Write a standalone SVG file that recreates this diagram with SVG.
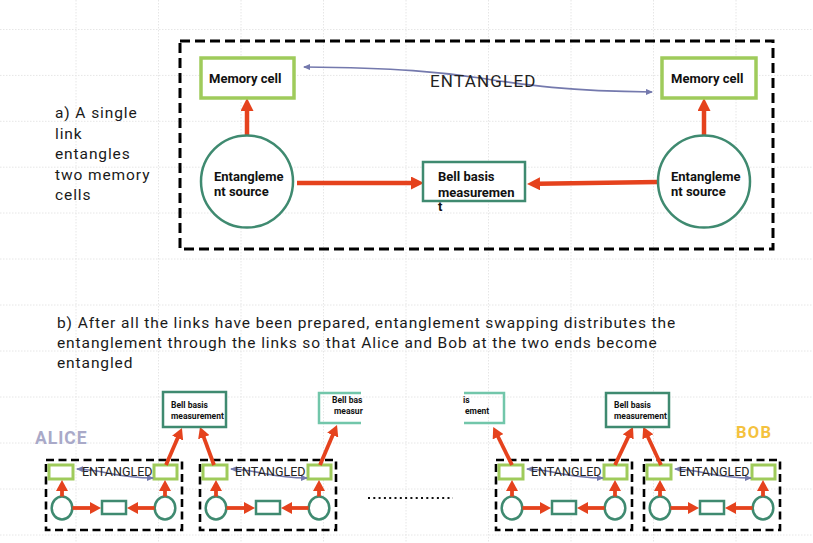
<svg xmlns="http://www.w3.org/2000/svg" width="813" height="543" viewBox="0 0 813 543">
<style>
.grid{stroke:#e6e6e6;stroke-width:1;stroke-dasharray:1.5 1.5;fill:none}
.body{font-family:Roboto,"Liberation Sans",sans-serif;font-size:15.5px;fill:#1a1a1a;letter-spacing:0.9px}
.lbl{font-family:Roboto,"Liberation Sans",sans-serif;font-weight:bold;font-size:13px;fill:#111}
.blbl{font-family:Roboto,"Liberation Sans",sans-serif;font-weight:bold;font-size:8.5px;fill:#111}
.ent{font-family:Roboto,"Liberation Sans",sans-serif;font-size:17px;fill:#222;letter-spacing:1.2px}
.ents{font-family:Roboto,"Liberation Sans",sans-serif;font-size:12.5px;fill:#222}
.mem{fill:#fff;stroke:#9fcb5b;stroke-width:3.5}
.mems{fill:#fff;stroke:#9fcb5b;stroke-width:3}
.src{fill:#fff;stroke:#3f8a70;stroke-width:2.5}
.bell{fill:#fff;stroke:#3f8a70;stroke-width:2.5}
.bellL{fill:none;stroke:#72c6aa;stroke-width:2.5}
.link{fill:none;stroke:#000;stroke-width:3;stroke-dasharray:10 5}
.links{fill:none;stroke:#000;stroke-width:2.6;stroke-dasharray:8 4.5}
.red{stroke:#e5421d;stroke-width:4.5;fill:none;marker-end:url(#rh)}
.reds{stroke:#e5421d;stroke-width:3.8;fill:none;marker-end:url(#rhs)}
.lav{stroke:#7479ad;stroke-width:1.6;fill:none;marker-start:url(#lh);marker-end:url(#lh)}
</style>
<defs>
<marker id="rh" markerUnits="userSpaceOnUse" markerWidth="13" markerHeight="13" viewBox="0 0 13 13" refX="2" refY="6.5" orient="auto"><path d="M0,0 L13,6.5 L0,13 Z" fill="#e5421d"/></marker>
<marker id="rhs" markerUnits="userSpaceOnUse" markerWidth="11" markerHeight="12" viewBox="0 0 11 12" refX="2" refY="6" orient="auto"><path d="M0,0 L11,6 L0,12 Z" fill="#e5421d"/></marker>
<marker id="lh" markerUnits="userSpaceOnUse" markerWidth="7" markerHeight="6" viewBox="0 0 7 6" refX="6" refY="3" orient="auto-start-reverse"><path d="M0,0 L7,3 L0,6 Z" fill="#7479ad"/></marker>
</defs>
<rect width="813" height="543" fill="#fff"/>
<g id="grid" class="grid">
<path d="M76,0V543M158.5,0V543M241,0V543M323.5,0V543M406,0V543M488.5,0V543M571,0V543M653.5,0V543M736,0V543"/>
<path d="M0,29.5H813M0,75.4H813M0,121.3H813M0,167.2H813M0,213H813M0,259H813M0,305H813M0,351H813M0,397H813M0,443H813M0,489H813M0,535H813"/>
</g>

<g id="caption-a">
<text class="body" x="55" y="118">a) A single</text>
<text class="body" x="55" y="138.5">link</text>
<text class="body" x="55" y="159">entangles</text>
<text class="body" x="55" y="179.5">two memory</text>
<text class="body" x="55" y="200">cells</text>
</g>

<g id="link-a">
<rect class="link" x="180" y="41" width="593" height="208"/>
</g>

<g id="connectors-a">
<path class="red" d="M247,136 V109"/>
<path class="red" d="M704,136 V109"/>
<path class="red" d="M297,183 H413"/>
<path class="red" d="M658,182 L538,183.8"/>
<path class="lav" d="M304,67 C400,68 440,72 480,78 S560,91 652,92"/>
</g>

<g id="memory-left">
<rect class="mem" x="201" y="58" width="93" height="40"/>
<text class="lbl" x="209" y="83">Memory cell</text>
</g>
<g id="memory-right">
<rect class="mem" x="662" y="58" width="94" height="40"/>
<text class="lbl" x="671" y="83">Memory cell</text>
</g>
<g id="source-left">
<circle class="src" cx="247" cy="181.5" r="46"/>
<text class="lbl" x="214" y="181">Entangleme</text>
<text class="lbl" x="214" y="196">nt source</text>
</g>
<g id="source-right">
<circle class="src" cx="704" cy="181.5" r="46"/>
<text class="lbl" x="671" y="181">Entangleme</text>
<text class="lbl" x="671" y="196">nt source</text>
</g>
<g id="bell-a">
<rect class="bell" x="423" y="162" width="102" height="39"/>
<text class="lbl" x="438" y="180.5">Bell basis</text>
<text class="lbl" x="438" y="197">measuremen</text>
<text class="lbl" x="438" y="211">t</text>
</g>
<g id="entangled-label-a">
<text class="ent" x="430" y="87">ENTANGLED</text>
</g>

<g id="caption-b">
<text class="body" x="57" y="328">b) After all the links have been prepared, entanglement swapping distributes the</text>
<text class="body" x="57" y="348.3">entanglement through the links so that Alice and Bob at the two ends become</text>
<text class="body" x="57" y="368.3">entangled</text>
</g>

<g id="alice"><text x="35" y="444" font-family="Roboto,'Liberation Sans',sans-serif" font-weight="bold" font-size="17.5" letter-spacing="1" fill="#a9a9c8">ALICE</text></g>
<g id="bob"><text x="736" y="438" font-family="Roboto,'Liberation Sans',sans-serif" font-weight="bold" font-size="16.5" letter-spacing="1.3" fill="#f4c23e">BOB</text></g>

<g id="link-1" transform="translate(46,0)">
<rect class="links" x="0" y="460" width="136" height="70"/>
<rect class="mems" x="3" y="465" width="24" height="14"/>
<rect class="mems" x="108" y="465" width="23" height="14"/>
<ellipse class="src" cx="16" cy="508" rx="10.3" ry="11.5"/>
<ellipse class="src" cx="119" cy="508" rx="10.3" ry="11.5"/>
<rect class="src" x="56" y="501" width="24" height="13"/>
<path class="reds" d="M26.5,508 H46"/>
<path class="reds" d="M108.5,508 H90"/>
<path class="reds" d="M16,496.5 V489"/>
<path class="reds" d="M119,496.5 V489"/>
<path class="lav" d="M31,469 C60,470 70,478 107,478"/>
<text class="ents" x="36" y="476">ENTANGLED</text>
</g>
<g id="link-2" transform="translate(200,0)">
<rect class="links" x="0" y="460" width="136" height="70"/>
<rect class="mems" x="3" y="465" width="24" height="14"/>
<rect class="mems" x="108" y="465" width="23" height="14"/>
<ellipse class="src" cx="16" cy="508" rx="10.3" ry="11.5"/>
<ellipse class="src" cx="119" cy="508" rx="10.3" ry="11.5"/>
<rect class="src" x="56" y="501" width="24" height="13"/>
<path class="reds" d="M26.5,508 H46"/>
<path class="reds" d="M108.5,508 H90"/>
<path class="reds" d="M16,496.5 V489"/>
<path class="reds" d="M119,496.5 V489"/>
<path class="lav" d="M31,469 C60,470 70,478 107,478"/>
<text class="ents" x="35" y="476">ENTANGLED</text>
</g>
<g id="link-3" transform="translate(496,0)">
<rect class="links" x="0" y="460" width="136" height="70"/>
<rect class="mems" x="3" y="465" width="24" height="14"/>
<rect class="mems" x="108" y="465" width="23" height="14"/>
<ellipse class="src" cx="16" cy="508" rx="10.3" ry="11.5"/>
<ellipse class="src" cx="119" cy="508" rx="10.3" ry="11.5"/>
<rect class="src" x="56" y="501" width="24" height="13"/>
<path class="reds" d="M26.5,508 H46"/>
<path class="reds" d="M108.5,508 H90"/>
<path class="reds" d="M16,496.5 V489"/>
<path class="reds" d="M119,496.5 V489"/>
<path class="lav" d="M31,469 C60,470 70,478 107,478"/>
<text class="ents" x="35" y="476">ENTANGLED</text>
</g>
<g id="link-4" transform="translate(644,0)">
<rect class="links" x="0" y="460" width="136" height="70"/>
<rect class="mems" x="3" y="465" width="24" height="14"/>
<rect class="mems" x="108" y="465" width="23" height="14"/>
<ellipse class="src" cx="16" cy="508" rx="10.3" ry="11.5"/>
<ellipse class="src" cx="119" cy="508" rx="10.3" ry="11.5"/>
<rect class="src" x="56" y="501" width="24" height="13"/>
<path class="reds" d="M26.5,508 H46"/>
<path class="reds" d="M108.5,508 H90"/>
<path class="reds" d="M16,496.5 V489"/>
<path class="reds" d="M119,496.5 V489"/>
<path class="lav" d="M31,469 C60,470 70,478 107,478"/>
<text class="ents" x="35" y="476">ENTANGLED</text>
</g>

<g id="connectors-b">
<path class="reds" d="M166,465 L178.4,436.3"/>
<path class="reds" d="M214,465 L203.1,435.4"/>
<path class="reds" d="M320,465 L333.5,433.3"/>
<path class="reds" d="M512,465 L497.2,435"/>
<path class="reds" d="M615,465 L629.1,435.1"/>
<path class="reds" d="M661,465 L647,435"/>
<path d="M368,498 H453" stroke="#111" stroke-width="2" stroke-dasharray="2 3.3" fill="none"/>
</g>

<g id="bell-1">
<rect class="bell" x="163" y="392" width="63" height="35"/>
<text class="blbl" x="171" y="408">Bell basis</text>
<text class="blbl" x="171" y="418.5">measurement</text>
</g>
<g id="bell-2">
<path class="bellL" d="M361,393 H319 V423 H361"/>
<text class="blbl" x="332" y="403">Bell bas</text>
<text class="blbl" x="334" y="414">measur</text>
</g>
<g id="bell-3">
<path class="bellL" d="M464,393 H504 V423 H464"/>
<text class="blbl" x="463" y="403">is</text>
<text class="blbl" x="465" y="414">ement</text>
</g>
<g id="bell-4">
<rect class="bell" x="606" y="393" width="63" height="34"/>
<text class="blbl" x="614" y="408">Bell basis</text>
<text class="blbl" x="614" y="418.5">measurement</text>
</g>
</svg>
